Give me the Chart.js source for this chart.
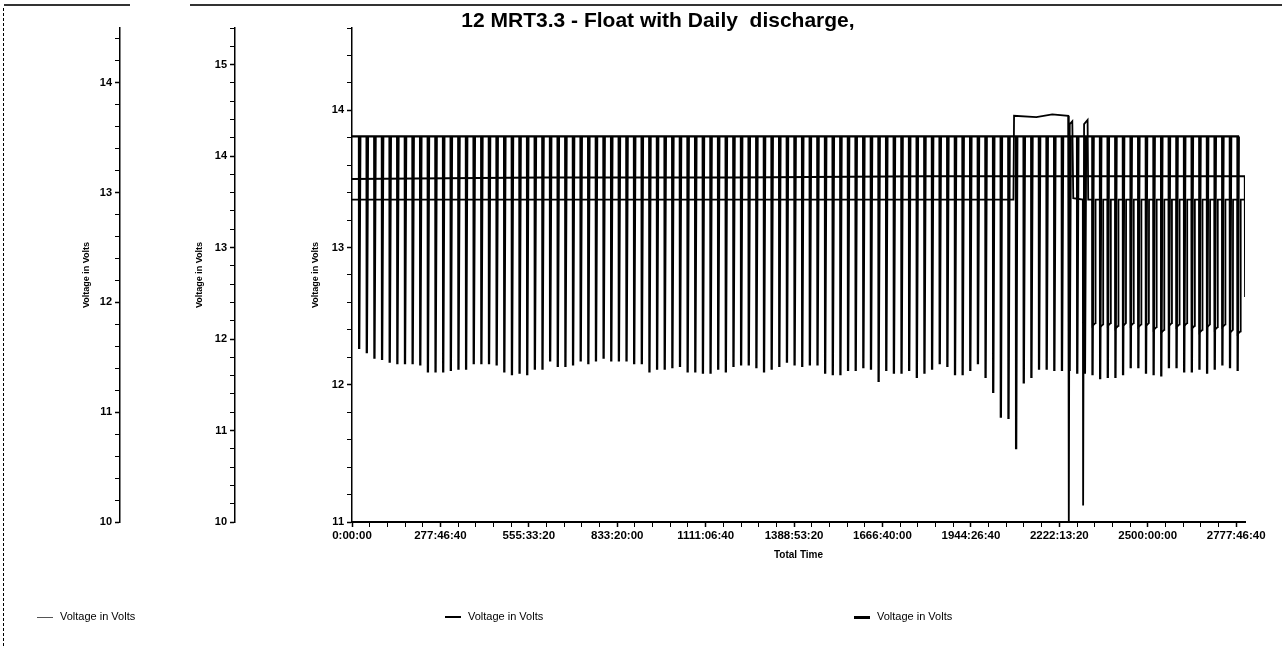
<!DOCTYPE html>
<html>
<head>
<meta charset="utf-8">
<script src="https://cdn.jsdelivr.net/npm/chart.js@4.4.1/dist/chart.umd.min.js"></script>
<style>
html,body{margin:0;padding:0;background:#fff;}
#wrap{position:relative;width:1282px;height:646px;overflow:hidden;background:#fff;}
#c{position:absolute;left:0;top:0;}
#title{position:absolute;top:8px;left:358px;width:600px;text-align:center;font:bold 21px "Liberation Sans",Arial,sans-serif;white-space:pre;color:#000;}
.leg{position:absolute;top:610px;font:11px "Liberation Sans",Arial,sans-serif;color:#000;white-space:nowrap;line-height:13px;}
.leg .m{display:inline-block;width:16px;vertical-align:middle;margin-right:7px;background:#000;}
.ft{position:absolute;background:#333;}
.fl{position:absolute;left:3px;top:8px;width:0;height:638px;border-left:1px dashed #000;}
</style>
</head>
<body>
<div id="wrap">
<canvas id="c" width="1282" height="646"></canvas>
<div class="ft" style="left:4px;top:4px;width:126px;height:2px;"></div>
<div class="ft" style="left:190px;top:4px;width:1092px;height:2px;"></div>
<div class="fl"></div>
<div id="title">12 MRT3.3 - Float with Daily  discharge,</div>
<div class="leg" style="left:37px;"><span class="m" style="height:1px;background:#555"></span>Voltage in Volts</div>
<div class="leg" style="left:445px;"><span class="m" style="height:2px"></span>Voltage in Volts</div>
<div class="leg" style="left:854px;"><span class="m" style="height:3px"></span>Voltage in Volts</div>
</div>
<script>
// ---- data ----
const seriesLabels = ['Voltage in Volts', 'Voltage in Volts', 'Voltage in Volts'];
const xTickLabels = ['0:00:00','277:46:40','555:33:20','833:20:00','1111:06:40','1388:53:20','1666:40:00','1944:26:40','2222:13:20','2500:00:00','2777:46:40'];
const y1TickLabels = [10, 11, 12, 13, 14];
const y2TickLabels = [10, 11, 12, 13, 14, 15];
const y3TickLabels = [11, 12, 13, 14];

// daily discharge start times (hours)
const cycleHours = [22,46,70,94,118,142,166,190,214,238,262,286,310,334,358,382,406,430,454,478,502,526,550,574,598,622,646,670,694,718,742,766,790,814,838,862,886,910,934,958,982,1006,1030,1054,1078,1102,1126,1150,1174,1198,1222,1246,1270,1294,1318,1342,1366,1390,1414,1438,1462,1486,1510,1534,1558,1582,1606,1630,1654,1678,1702,1726,1750,1774,1798,1822,1846,1870,1894,1918,1942,1966,1990,2014,2038,2062,2086,2110,2134,2158,2182,2206,2230,2254,2278,2302,2326,2350,2374,2398,2422,2446,2470,2494,2518,2542,2566,2590,2614,2638,2662,2686,2710,2734,2758,2782];
// series 1: float level and end-of-discharge voltage of each cycle
const s1Top = 13.81;
const s1EndHour = 2787;
const s1Min = [
12.26,12.23,12.19,12.18,12.16,12.15,12.15,12.15,12.14,12.09,
12.09,12.09,12.10,12.11,12.11,12.15,12.15,12.15,12.14,12.09,
12.07,12.08,12.07,12.11,12.11,12.17,12.13,12.13,12.14,12.17,
12.15,12.17,12.19,12.17,12.17,12.17,12.15,12.15,12.09,12.11,
12.11,12.12,12.13,12.09,12.09,12.08,12.08,12.11,12.09,12.13,
12.14,12.14,12.12,12.09,12.11,12.13,12.16,12.14,
12.13,12.14,12.14,12.08,12.07,12.07,12.10,12.10,12.12,12.11,
12.02,12.10,12.08,12.08,12.10,12.05,12.08,12.11,12.15,12.13,
12.07,12.07,12.10,12.15,12.05,11.94,11.76,11.75,11.53,12.01,
12.05,12.11,12.11,12.10,12.10,12.10,12.08,12.08,12.07,12.04,
12.05,12.05,12.07,12.12,12.12,12.08,12.07,12.06,12.12,12.12,
12.09,12.09,12.11,12.08,12.11,12.14,12.12,12.10];
// series 2: [hour, volts]
const s2Points = [[0,13.50],[600,13.51],[1200,13.51],[1800,13.52],[2400,13.52],[2805,13.52],[2806,12.64]];
// series 3: [hour, volts] before its own discharge cycles start
const s3Points = [[0,13.35],[2078,13.35],[2080,13.96],[2150,13.95],[2200,13.97],[2250,13.96],[2252,11.00],[2255,13.90],[2263,13.92],[2266,13.36],[2296,13.35],[2297,11.12],[2300,13.90],[2311,13.93],[2313,13.35]];
const s3Float = 13.35;
const s3CycleHours = [2326,2350,2374,2398,2422,2446,2470,2494,2518,2542,2566,2590,2614,2638,2662,2686,2710,2734,2758,2782];
const s3CycleMin = [12.43,12.42,12.43,12.41,12.43,12.43,12.42,12.43,12.40,12.38,12.43,12.42,12.43,12.41,12.38,12.42,12.40,12.42,12.38,12.37];
const s3EndHour = 2805;

// ---- build library tables ----
const H = 3600;
const s1Data = [{x: 0, y: s1Top}];
cycleHours.forEach((h, i) => {
  s1Data.push({x: h * H, y: s1Top}, {x: (h + 0.5) * H, y: s1Min[i]}, {x: (h + 4) * H, y: s1Top});
});
s1Data.push({x: s1EndHour * H, y: s1Top});

const s2Data = s2Points.map(p => ({x: p[0] * H, y: p[1]}));

const s3Data = s3Points.map(p => ({x: p[0] * H, y: p[1]}));
s3CycleHours.forEach((h, i) => {
  s3Data.push({x: h * H, y: s3Float}, {x: (h + 0.5) * H, y: s3CycleMin[i]}, {x: (h + 9.5) * H, y: s3CycleMin[i] + 0.02}, {x: (h + 10) * H, y: s3Float});
});
s3Data.push({x: s3EndHour * H, y: s3Float});

const FONT = '"Liberation Sans", Arial, sans-serif';

function minorTicks(min, max) {
  return function (scale) {
    const t = [];
    for (let i = Math.round(min * 5); i <= Math.floor(max * 5 + 1e-9); i++) t.push({value: i / 5});
    scale.ticks = t;
  };
}
function intLabel(labels) {
  return function (v) {
    const r = Math.round(v);
    return (Math.abs(v - r) < 1e-6 && labels.includes(r)) ? String(r) : '';
  };
}
function yAxis(min, max, labels, width, weight, titlePad, dash) {
  return {
    type: 'linear', position: 'left', min: min, max: max, weight: weight,
    afterBuildTicks: minorTicks(min, max),
    afterFit: s => { s.width = width; },
    ticks: {callback: intLabel(labels), autoSkip: false, color: '#000', padding: 3,
            font: {family: FONT, size: 11, weight: 'bold'}},
    grid: {drawOnChartArea: false, drawTicks: true, tickLength: 5, color: '#000',
           tickColor: '#000', tickWidth: c => (c.tick && Number.isInteger(Math.round(c.tick.value * 1e6) / 1e6)) ? 1.5 : 1},
    border: {display: true, color: '#000', width: 1.5, dash: dash || []},
    title: {display: true, text: 'Voltage in Volts', color: '#000',
            font: {family: FONT, size: 9, weight: 'bold'}, padding: {top: titlePad, bottom: 0}}
  };
}

new Chart(document.getElementById('c'), {
  type: 'line',
  data: {
    datasets: [
      {label: seriesLabels[0], data: s1Data, yAxisID: 'y3', borderColor: '#000', borderWidth: 2.3, pointRadius: 0, tension: 0, fill: false},
      {label: seriesLabels[1], data: s2Data, yAxisID: 'y3', borderColor: '#000', borderWidth: 2, pointRadius: 0, tension: 0, fill: false},
      {label: seriesLabels[2], data: s3Data, yAxisID: 'y3', borderColor: '#000', borderWidth: 1.8, pointRadius: 0, tension: 0, fill: false}
    ]
  },
  options: {
    responsive: false, animation: false, parsing: false,
    layout: {padding: {top: 28, right: 37, bottom: 84, left: 0}},
    plugins: {legend: {display: false}, title: {display: false}, tooltip: {enabled: false}},
    scales: {
      x: {
        type: 'linear', position: 'bottom', min: 0, max: 10.1e6,
        afterBuildTicks: s => { const t = []; for (let v = 0; v <= 10.1e6; v += 2e5) t.push({value: v}); s.ticks = t; },
        afterFit: s => { s.height = 40; },
        ticks: {autoSkip: false, maxRotation: 0, minRotation: 0, color: '#000', padding: 2,
                font: {family: FONT, size: 11.5, weight: 'bold'},
                callback: v => (v % 1e6 === 0 && xTickLabels[v / 1e6] !== undefined) ? xTickLabels[v / 1e6] : ''},
        grid: {drawOnChartArea: false, tickLength: 5, color: '#000', tickColor: '#000',
               tickWidth: c => (c.tick && c.tick.value % 1e6 === 0) ? 1.5 : 1},
        border: {display: true, color: '#000', width: 2},
        title: {display: true, text: 'Total Time', color: '#000', font: {family: FONT, size: 10, weight: 'bold'}, padding: {top: 2, bottom: 1}}
      },
      y1: yAxis(10, 14.5, y1TickLabels, 120, 3, 81, [5, 3]),
      y2: yAxis(10, 15.4, y2TickLabels, 115, 2, 74),
      y3: yAxis(11, 14.6, y3TickLabels, 117, 1, 75)
    }
  }
});
</script>
</body>
</html>
